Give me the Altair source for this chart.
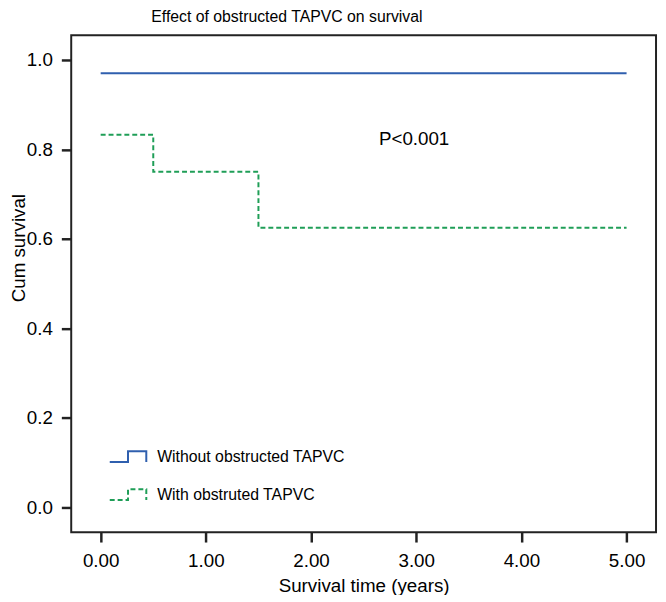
import altair as alt
import pandas as pd

groups = ["Without obstructed TAPVC", "With obstruted TAPVC"]
colors = ["#2f5fae", "#1f9e57"]
dashes = [[1, 0], [5, 3]]

without_time = [0.0, 5.0]
without_surv = [0.97, 0.97]
with_time = [0.0, 0.5, 1.5, 5.0]
with_surv = [0.833, 0.75, 0.625, 0.625]

x_ticks = [0, 1, 2, 3, 4, 5]
y_ticks = [0.0, 0.2, 0.4, 0.6, 0.8, 1.0]

p_label = ["P<0.001"]
p_x = [2.98]
p_y = [0.81]

df = pd.DataFrame({
    "time": without_time + with_time,
    "surv": without_surv + with_surv,
    "group": [groups[0]] * len(without_time) + [groups[1]] * len(with_time),
})
pdf = pd.DataFrame({"label": p_label, "time": p_x, "surv": p_y})

FONT = "Liberation Sans"

legend = alt.Legend(
    orient="none", legendX=39.5, legendY=408.5, title=None,
    symbolType="M-1.088,0.324H0V-0.324H1.088V0.324",
    symbolSize=1156, symbolStrokeWidth=2, symbolFillColor="transparent",
    labelFontSize=16, labelFont=FONT, labelColor="black", labelOffset=11.5,
    padding=0, rowPadding=10.5, labelLimit=400,
)

xs = alt.Scale(domain=[-0.28, 5.28], nice=False, zero=False)
ys = alt.Scale(domain=[-0.055, 1.055], nice=False, zero=False)

x_axis = alt.Axis(
    values=x_ticks, format=".2f", title="Survival time (years)",
    ticks=True, tickSize=10, tickWidth=2.5, tickColor="#222222", labelPadding=10,
    titleX=296, titleY=60, titleAlign="center", titleBaseline="alphabetic")
y_axis = alt.Axis(
    values=y_ticks, format=".1f", title="Cum survival",
    ticks=True, tickSize=10, tickWidth=2.5, tickColor="#222222", labelPadding=9,
    titleAngle=270, titleX=-47, titleY=215, titleAlign="center",
    titleBaseline="alphabetic")

lines = alt.Chart(df).mark_line(interpolate="step-after", strokeWidth=2).encode(
    x=alt.X("time:Q", scale=xs, axis=x_axis),
    y=alt.Y("surv:Q", scale=ys, axis=y_axis),
    color=alt.Color("group:N", scale=alt.Scale(domain=groups, range=colors), legend=legend),
    strokeDash=alt.StrokeDash("group:N", scale=alt.Scale(domain=groups, range=dashes), legend=legend),
)

ptext = alt.Chart(pdf).mark_text(
    fontSize=19, font=FONT, align="center", baseline="alphabetic", color="black"
).encode(x=alt.X("time:Q", scale=xs, axis=x_axis), y=alt.Y("surv:Q", scale=ys, axis=y_axis),
         text="label:N")

chart = alt.layer(lines, ptext).properties(
    width=592, height=503,
    autosize=alt.AutoSizeParams(type="none"),
    padding={"left": 64, "top": 24, "right": 2, "bottom": 60},
    title=alt.Title("Effect of obstructed TAPVC on survival", anchor="start", frame="group",
                    dx=81, fontSize=16, fontWeight="normal", font=FONT, color="black", offset=10),
).configure_view(stroke="#222222", strokeWidth=2).configure_axis(
    domain=False, grid=False,
    labelColor="black", labelFontSize=19, labelFont=FONT,
    titleFontSize=19, titleFont=FONT, titleFontWeight="normal", titleColor="black",
)

chart.save("out.html", embed_options={"renderer": "svg", "actions": False})
